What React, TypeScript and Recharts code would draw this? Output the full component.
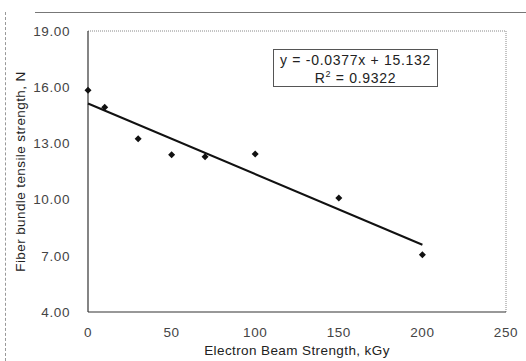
import React from "react";
import {
  ScatterChart,
  Scatter,
  XAxis,
  YAxis,
  ReferenceLine,
} from "recharts";

// Electron beam dose (kGy) vs. fiber bundle tensile strength (N)
const doses = [0, 10, 30, 50, 70, 100, 150, 200];
const strengths = [15.84, 14.93, 13.25, 12.39, 12.29, 12.43, 10.09, 7.05];

// linear trend line end points (y = -0.0377x + 15.132)
const trendX = [0, 200];
const trendY = [15.132, 7.592];

const xTicks = [0, 50, 100, 150, 200, 250];
const yTicks = [4, 7, 10, 13, 16, 19];

const points = doses.map((x, i) => ({ x, y: strengths[i] }));
const trend = trendX.map((x, i) => ({ x, y: trendY[i] }));

const FONT = "'Liberation Sans', Arial, sans-serif";

const Diamond = (props: any) => {
  const { cx, cy } = props;
  const r = 3.5;
  return (
    <path
      d={`M${cx},${cy - r}L${cx + r},${cy}L${cx},${cy + r}L${cx - r},${cy}Z`}
      fill="#111"
    />
  );
};

const tickStyle = {
  fill: "#444",
  fontSize: 13.5,
  fontFamily: FONT,
  letterSpacing: 0.6,
};

export default function App() {
  return (
    <div
      style={{
        position: "absolute",
        left: 0,
        top: 0,
        width: 526,
        height: 361,
        background: "#fff",
        fontFamily: FONT,
      }}
    >
      {/* scan frame */}
      <div
        style={{
          position: "absolute",
          left: 5,
          top: 12,
          height: 349,
          borderLeft: "1px dashed #999",
        }}
      />
      <div
        style={{
          position: "absolute",
          left: 35,
          top: 12,
          width: 491,
          borderTop: "1px solid #777",
        }}
      />

      <ScatterChart
        width={526}
        height={361}
        margin={{ top: 31, right: 20, left: 0, bottom: 0 }}
      >
        <XAxis
          type="number"
          dataKey="x"
          domain={[0, 250]}
          ticks={xTicks}
          height={49}
          tickLine={false}
          axisLine={{ stroke: "#333", strokeWidth: 1.2 }}
          tick={tickStyle}
          tickMargin={9}
          label={{
            value: "Electron Beam Strength, kGy",
            position: "insideBottom",
            offset: 6,
            fill: "#222",
            fontSize: 13.5,
            fontFamily: FONT,
            letterSpacing: 0.4,
          }}
        />
        <YAxis
          type="number"
          dataKey="y"
          domain={[4, 19]}
          ticks={yTicks}
          width={88}
          tickLine={false}
          axisLine={{ stroke: "#333", strokeWidth: 1.2 }}
          tick={tickStyle}
          tickMargin={12}
          tickFormatter={(v: number) => v.toFixed(2)}
          label={{
            value: "Fiber bundle tensile strength, N",
            angle: -90,
            position: "insideLeft",
            offset: 20,
            style: { textAnchor: "middle" },
            fill: "#222",
            fontSize: 13.5,
            fontFamily: FONT,
            letterSpacing: 0.4,
          }}
        />
        {/* plot border (top/right) */}
        <ReferenceLine y={19} stroke="#888" strokeDasharray="1 1" />
        <ReferenceLine x={250} stroke="#888" strokeDasharray="1 1" />
        <Scatter
          data={trend}
          line={{ stroke: "#111", strokeWidth: 2 }}
          shape={() => <g />}
          isAnimationActive={false}
        />
        <Scatter data={points} shape={Diamond} isAnimationActive={false} />
      </ScatterChart>

      {/* trendline equation box */}
      <div
        style={{
          position: "absolute",
          left: 273,
          top: 49,
          width: 165,
          height: 38,
          border: "1px solid #555",
          background: "#fff",
          color: "#222",
          fontSize: 14,
          letterSpacing: 0.7,
          lineHeight: "18px",
          textAlign: "center",
          paddingTop: 1,
          boxSizing: "border-box",
        }}
      >
        <div>y = -0.0377x + 15.132</div>
        <div>
          R<sup style={{ fontSize: 9, lineHeight: 0 }}>2</sup> = 0.9322
        </div>
      </div>
    </div>
  );
}
